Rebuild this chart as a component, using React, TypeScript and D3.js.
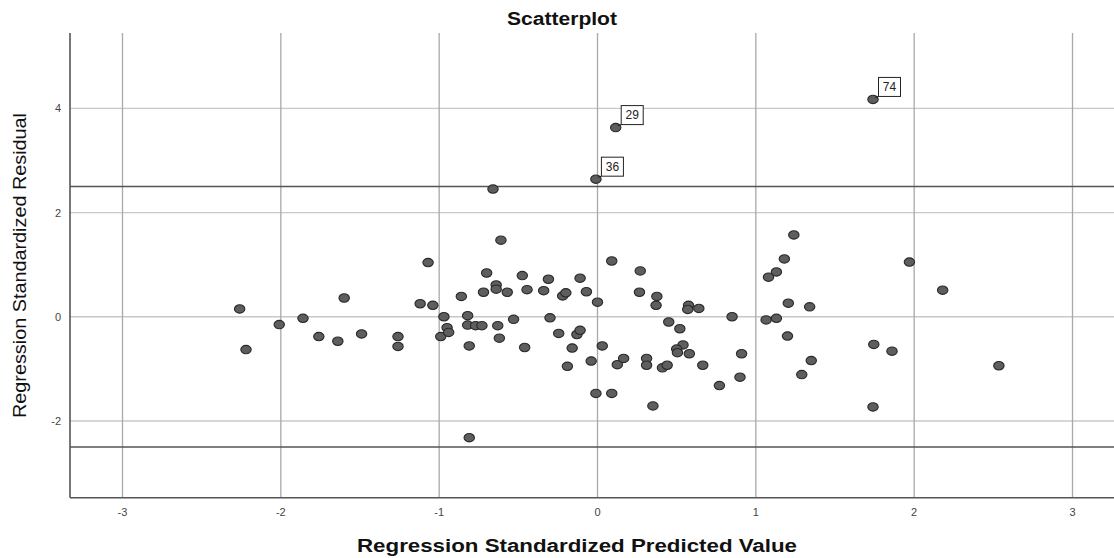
import { useEffect, useRef } from "react";
import * as d3 from "d3";

// standardized predicted value (x) and standardized residual (y) per case
const predicted = [
  -2.26, -2.22, -2.01, -1.86, -1.76, -1.64, -1.6, -1.49, -1.26, -1.26,
  -1.12, -1.04, -1.07, -0.97, -0.99, -0.95, -0.94, -0.86, -0.82, -0.82,
  -0.81, -0.77, -0.73, -0.72, -0.7, -0.64, -0.64, -0.63, -0.62, -0.61,
  -0.57, -0.53, -0.475, -0.445, -0.46, -0.34, -0.31, -0.3, -0.245, -0.22,
  -0.2, -0.16, -0.19, -0.13, -0.11, -0.11, -0.07, -0.04, 0.0, -0.01,
  0.03, 0.09, 0.09, 0.125, 0.165, 0.27, 0.265, 0.31, 0.31, 0.375,
  0.37, 0.41, 0.44, 0.45, 0.52, 0.54, 0.5, 0.505, 0.58, 0.575,
  0.57, 0.64, 0.665, 0.77, 0.85, 0.91, 0.9, 0.35, 1.24, 1.18,
  1.13, 1.08, 1.205, 1.34, 1.065, 1.13, 1.2, 1.35, 1.29, 1.97,
  2.18, 1.745, 1.86, 2.535, 1.74, 1.74, 0.115, -0.01, -0.66, -0.81,
];
const residual = [
  0.15, -0.63, -0.15, -0.03, -0.38, -0.47, 0.36, -0.33, -0.38, -0.57,
  0.25, 0.22, 1.04, 0.0, -0.38, -0.21, -0.3, 0.39, 0.02, -0.16,
  -0.56, -0.17, -0.17, 0.47, 0.84, 0.61, 0.53, -0.17, -0.41, 1.47,
  0.47, -0.05, 0.79, 0.52, -0.59, 0.5, 0.72, -0.02, -0.32, 0.4,
  0.46, -0.6, -0.95, -0.34, -0.26, 0.74, 0.48, -0.85, 0.28, -1.47,
  -0.56, -1.47, 1.07, -0.92, -0.8, 0.88, 0.47, -0.8, -0.93, 0.39,
  0.22, -0.98, -0.93, -0.1, -0.23, -0.54, -0.62, -0.69, -0.71, 0.22,
  0.14, 0.16, -0.93, -1.32, 0.0, -0.71, -1.16, -1.71, 1.57, 1.11,
  0.86, 0.76, 0.26, 0.19, -0.06, -0.03, -0.37, -0.84, -1.11, 1.05,
  0.51, -0.53, -0.66, -0.94, -1.73, 4.17, 3.63, 2.64, 2.45, -2.32,
];
// labelled outliers: index into the arrays above, and case number
const labelIndex = [95, 96, 97];
const labelCase = ["74", "29", "36"];

const xTicks = [-3, -2, -1, 0, 1, 2, 3];
const yTicks = [-2, 0, 2, 4];
const refLines = [2.5, -2.5];

export default function App() {
  const ref = useRef<SVGSVGElement | null>(null);

  useEffect(() => {
    const width = 1114;
    const height = 558;
    const left = 70, right = 1114, top = 33, bottom = 497.7;

    const svg = d3.select(ref.current);
    svg.selectAll("*").remove();
    svg.attr("width", width).attr("height", height);

    const x = d3.scaleLinear().domain([-3, 3]).range([122.5, 1072.5]);
    const y = d3.scaleLinear().domain([-2, 4]).range([421, 108.3]);

    const font = "'Liberation Sans', Arial, sans-serif";

    // grid
    svg.append("g")
      .selectAll("line")
      .data(yTicks)
      .enter()
      .append("line")
      .attr("x1", left).attr("x2", right)
      .attr("y1", d => y(d)).attr("y2", d => y(d))
      .attr("stroke", "#c8c8c8")
      .attr("stroke-width", 1.3);

    svg.append("g")
      .selectAll("line")
      .data(xTicks)
      .enter()
      .append("line")
      .attr("x1", d => x(d)).attr("x2", d => x(d))
      .attr("y1", top).attr("y2", bottom)
      .attr("stroke", "#a8a8a8")
      .attr("stroke-width", 1.3);

    // reference lines at +-2.5
    svg.append("g")
      .selectAll("line")
      .data(refLines)
      .enter()
      .append("line")
      .attr("x1", left).attr("x2", right)
      .attr("y1", d => y(d)).attr("y2", d => y(d))
      .attr("stroke", "#555")
      .attr("stroke-width", 1.6);

    // axis frame
    svg.append("line")
      .attr("x1", left).attr("x2", left).attr("y1", top).attr("y2", bottom)
      .attr("stroke", "#555").attr("stroke-width", 1.6);
    svg.append("line")
      .attr("x1", left).attr("x2", right).attr("y1", bottom).attr("y2", bottom)
      .attr("stroke", "#555").attr("stroke-width", 1.6);

    // tick labels
    svg.append("g")
      .selectAll("text")
      .data(yTicks)
      .enter()
      .append("text")
      .attr("x", 61)
      .attr("y", d => y(d) + 4)
      .attr("text-anchor", "end")
      .style("font-family", font)
      .style("font-size", "11px")
      .style("fill", "#444")
      .text(d => String(d));

    svg.append("g")
      .selectAll("text")
      .data(xTicks)
      .enter()
      .append("text")
      .attr("x", d => x(d))
      .attr("y", 516)
      .attr("text-anchor", "middle")
      .style("font-family", font)
      .style("font-size", "11px")
      .style("fill", "#444")
      .text(d => String(d));

    // points
    svg.append("g")
      .selectAll("ellipse")
      .data(predicted.map((p, i) => [p, residual[i]]))
      .enter()
      .append("ellipse")
      .attr("cx", d => x(d[0]))
      .attr("cy", d => y(d[1]))
      .attr("rx", 5.2)
      .attr("ry", 4.2)
      .attr("fill", "#5e5e5e")
      .attr("stroke", "#2a2a2a")
      .attr("stroke-width", 1.1);

    // case labels
    const lab = svg.append("g")
      .selectAll("g")
      .data(labelIndex.map((idx, k) => ({ px: x(predicted[idx]), py: y(residual[idx]), name: labelCase[k] })))
      .enter()
      .append("g");
    lab.append("line")
      .attr("x1", d => d.px + 2).attr("y1", d => d.py - 2)
      .attr("x2", d => d.px + 5.5).attr("y2", d => d.py - 3)
      .attr("stroke", "#222").attr("stroke-width", 1);
    lab.append("rect")
      .attr("x", d => d.px + 5.5)
      .attr("y", d => d.py - 22)
      .attr("width", 22)
      .attr("height", 19)
      .attr("fill", "#fff")
      .attr("stroke", "#222")
      .attr("stroke-width", 1);
    lab.append("text")
      .attr("x", d => d.px + 16.5)
      .attr("y", d => d.py - 8.5)
      .attr("text-anchor", "middle")
      .style("font-family", font)
      .style("font-size", "12px")
      .style("fill", "#222")
      .text(d => d.name);

    // titles
    svg.append("text")
      .attr("x", 562).attr("y", 25)
      .attr("text-anchor", "middle")
      .attr("textLength", 110)
      .attr("lengthAdjust", "spacingAndGlyphs")
      .style("font-family", font)
      .style("font-size", "18px")
      .style("font-weight", 700)
      .style("fill", "#111")
      .text("Scatterplot");

    svg.append("text")
      .attr("x", 577).attr("y", 552)
      .attr("text-anchor", "middle")
      .attr("textLength", 440)
      .attr("lengthAdjust", "spacingAndGlyphs")
      .style("font-family", font)
      .style("font-size", "18px")
      .style("font-weight", 700)
      .style("fill", "#111")
      .text("Regression Standardized Predicted Value");

    svg.append("text")
      .attr("transform", "translate(26,265.5) rotate(-90)")
      .attr("text-anchor", "middle")
      .attr("textLength", 305)
      .attr("lengthAdjust", "spacingAndGlyphs")
      .style("font-family", font)
      .style("font-size", "18px")
      .style("fill", "#111")
      .text("Regression Standardized Residual");
  }, []);

  return (
    <div style={{ position: "absolute", left: 0, top: 0, background: "#fff" }}>
      <svg ref={ref} style={{ display: "block" }} />
    </div>
  );
}
